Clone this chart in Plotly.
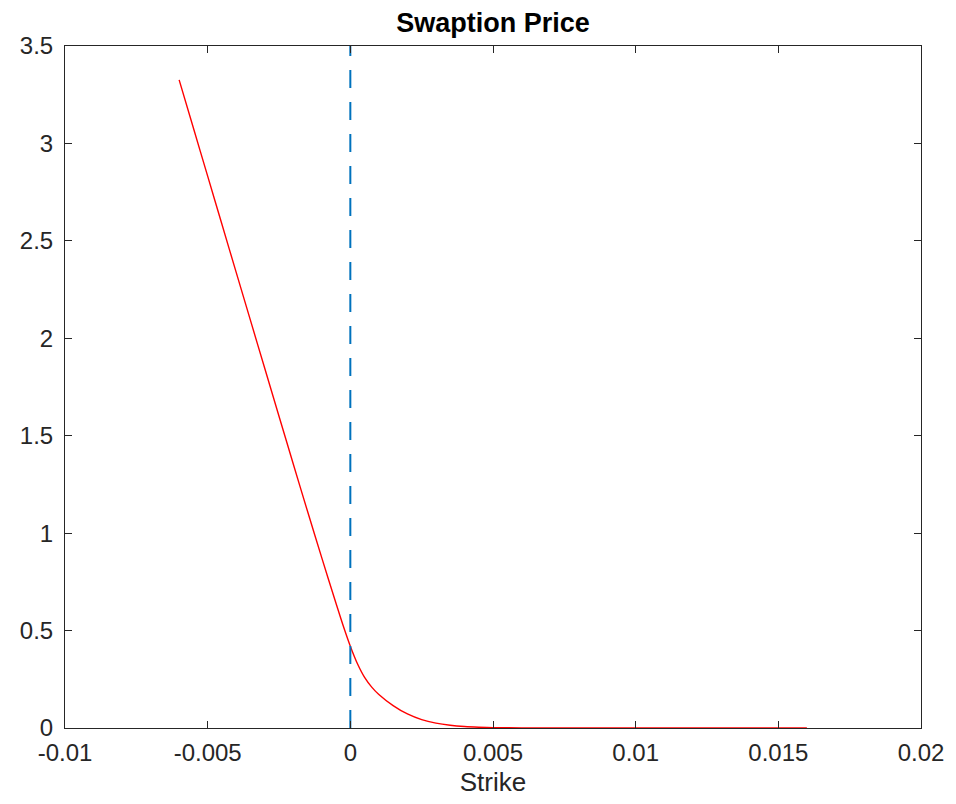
import plotly.graph_objects as go

# Data
strikes = [-0.006, -0.0055, -0.005, -0.0045, -0.004, -0.0035, -0.003, -0.0025,
           -0.002, -0.0015, -0.001, -0.0005, -0.00025, 0.0, 0.00025, 0.0005,
           0.00075, 0.001, 0.0015, 0.002, 0.0025, 0.003, 0.0035, 0.004, 0.0045,
           0.005, 0.006, 0.007, 0.008, 0.009, 0.010, 0.012, 0.014, 0.016]
prices = [3.326, 3.079, 2.832, 2.585, 2.338, 2.092, 1.846, 1.60,
          1.355, 1.112, 0.873, 0.639, 0.525, 0.42, 0.33, 0.26,
          0.21, 0.172, 0.115, 0.072, 0.043, 0.025, 0.014, 0.0075, 0.004,
          0.002, 0.0008, 0.0003, 0.0001, 0.0, 0.0, 0.0, 0.0, 0.0]
forward_x = [0.0, 0.0]
forward_y = [0.0, 3.5]

x_ticks = [-0.01, -0.005, 0, 0.005, 0.01, 0.015, 0.02]
x_tick_labels = ["-0.01", "-0.005", "0", "0.005", "0.01", "0.015", "0.02"]
y_ticks = [0, 0.5, 1, 1.5, 2, 2.5, 3, 3.5]
y_tick_labels = ["0", "0.5", "1", "1.5", "2", "2.5", "3", "3.5"]

FONT = "Liberation Sans, Arial, Helvetica, sans-serif"

fig = go.Figure()
fig.add_trace(go.Scatter(
    x=strikes, y=prices, mode="lines",
    line=dict(color="#FF0000", width=1.4, shape="spline", smoothing=0.8),
    showlegend=False, hoverinfo="x+y"))
fig.add_trace(go.Scatter(
    x=forward_x, y=forward_y, mode="lines",
    line=dict(color="#0072BD", width=2, dash="18px,14px"),
    showlegend=False, hoverinfo="skip"))

axis_common = dict(
    showline=True, linecolor="#262626", linewidth=1, mirror="allticks",
    ticks="inside", ticklen=7, tickcolor="#262626", tickwidth=1,
    showgrid=False, zeroline=False,
    tickfont=dict(family=FONT, size=24, color="#262626"),
)

W, H = 948, 796
fig.update_layout(
    width=W, height=H,
    margin=dict(l=50, r=26, t=38, b=72),
    paper_bgcolor="white", plot_bgcolor="white",
    title=dict(text="<b>Swaption Price</b>", x=0.5, xref="paper", xanchor="center",
               y=1 - 15 / H, yref="container", yanchor="middle",
               font=dict(family=FONT, size=27, color="black")),
    xaxis=dict(range=[-0.01, 0.02], tickvals=x_ticks, ticktext=x_tick_labels,
               ticklabelstandoff=3,
               title=dict(text="Strike", standoff=8,
                          font=dict(family=FONT, size=26, color="#262626")),
               **axis_common),
    yaxis=dict(range=[0, 3.5], tickvals=y_ticks, ticktext=y_tick_labels,
               ticklabelstandoff=6, **axis_common),
)

fig.write_html("out.html")
